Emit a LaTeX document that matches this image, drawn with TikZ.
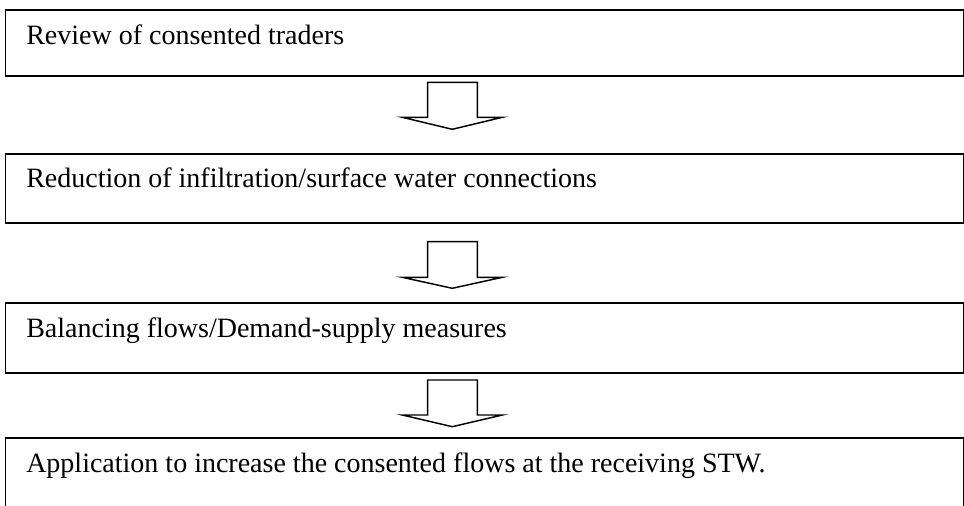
\documentclass[tikz,border=0pt]{standalone}
\usepackage{fontspec}
\setmainfont{Liberation Serif}
\begin{document}
\begin{tikzpicture}[x=0.75pt,y=-0.75pt,
  stepbox/.style={draw=black,line width=1.4pt,rectangle,inner sep=0pt,anchor=north west,minimum width=718.6pt},
  steptext/.style={anchor=base west,inner sep=0pt,font=\fontsize{21}{25}\selectfont},
  blockarrow/.style={draw=black,line width=1.1pt,fill=white,line join=miter}]
\useasboundingbox (0,0) rectangle (964,506);
\clip (0,0) rectangle (964,506);
\node[stepbox,minimum height=49.7pt] (b1) at (4.5,8.7) {};
\node[stepbox,minimum height=52.1pt] (b2) at (4.5,152.7) {};
\node[stepbox,minimum height=52.7pt] (b3) at (4.5,302) {};
\node[stepbox,minimum height=90pt] (b4) at (4.5,437.3) {};
\node[steptext] (t1) at (26,45) {Review of consented traders};
\node[steptext] (t2) at (26,187.7) {Reduction of infiltration/surface water connections};
\node[steptext] (t3) at (26,337.5) {Balancing flows/Demand-supply measures};
\node[steptext] (t4) at (26,472.7) {Application to increase the consented flows at the receiving STW.};
% block arrows
\draw[blockarrow] (427.7,82.3) -- (477.3,82.3) -- (477.3,117.3) -- (502.3,117.3) -- (452.3,129.3) -- (402.3,117.3) -- (427.7,117.3) -- cycle;
\draw[blockarrow] (427.7,241.7) -- (477.3,241.7) -- (477.3,277.3) -- (502.3,277.3) -- (452.3,288.3) -- (402.3,277.3) -- (427.7,277.3) -- cycle;
\draw[blockarrow] (427.7,380) -- (477.3,380) -- (477.3,415) -- (502.3,415) -- (452.3,426.7) -- (402.3,415) -- (427.7,415) -- cycle;
\end{tikzpicture}
\end{document}
